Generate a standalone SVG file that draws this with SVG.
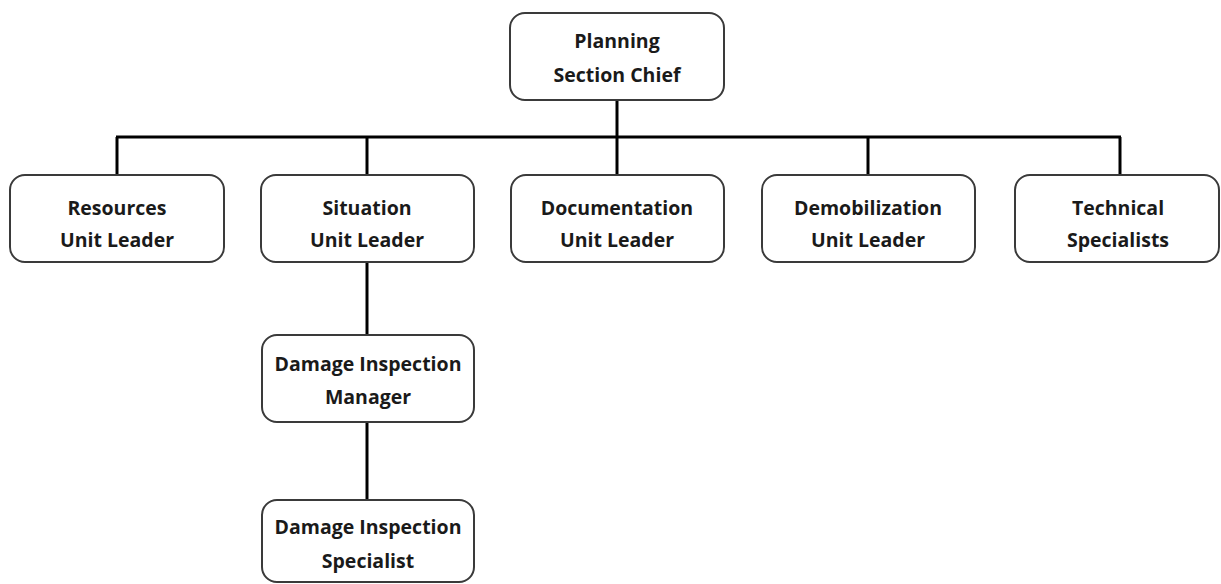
<svg xmlns="http://www.w3.org/2000/svg" width="1221" height="584" viewBox="0 0 1221 584">
<style>
.box{fill:#fff;stroke:#3a3a3a;stroke-width:2}
.t{font-family:"Open Sans","Liberation Sans",sans-serif;font-weight:700;font-size:19.5px;fill:#1a1a1a;text-anchor:middle}
.c{stroke:#000;stroke-width:3;fill:none}
</style>
<rect width="1221" height="584" fill="#fff"/>
<g id="connectors">
<line class="c" x1="617" y1="100" x2="617" y2="137"/>
<line class="c" x1="116" y1="137" x2="1121" y2="137"/>
<line class="c" x1="117" y1="137" x2="117" y2="175"/>
<line class="c" x1="367" y1="137" x2="367" y2="175"/>
<line class="c" x1="617" y1="137" x2="617" y2="175"/>
<line class="c" x1="868" y1="137" x2="868" y2="175"/>
<line class="c" x1="1120" y1="137" x2="1120" y2="175"/>
<line class="c" x1="367" y1="262" x2="367" y2="335"/>
<line class="c" x1="367" y1="422" x2="367" y2="500"/>
</g>
<g id="planning"><rect class="box" x="510" y="13" width="214" height="87" rx="15"/><text class="t" x="617" y="48">Planning</text><text class="t" x="617" y="82">Section Chief</text></g>
<g id="resources"><rect class="box" x="10" y="175" width="214" height="87" rx="15"/><text class="t" x="117" y="215">Resources</text><text class="t" x="117" y="247">Unit Leader</text></g>
<g id="situation"><rect class="box" x="261" y="175" width="213" height="87" rx="15"/><text class="t" x="367" y="215">Situation</text><text class="t" x="367" y="247">Unit Leader</text></g>
<g id="documentation"><rect class="box" x="511" y="175" width="213" height="87" rx="15"/><text class="t" x="617" y="215">Documentation</text><text class="t" x="617" y="247">Unit Leader</text></g>
<g id="demobilization"><rect class="box" x="762" y="175" width="213" height="87" rx="15"/><text class="t" x="868" y="215">Demobilization</text><text class="t" x="868" y="247">Unit Leader</text></g>
<g id="technical"><rect class="box" x="1015" y="175" width="204" height="87" rx="15"/><text class="t" x="1118" y="215">Technical</text><text class="t" x="1118" y="247">Specialists</text></g>
<g id="dim"><rect class="box" x="262" y="335" width="212" height="87" rx="15"/><text class="t" x="368" y="371">Damage Inspection</text><text class="t" x="368" y="404">Manager</text></g>
<g id="dis"><rect class="box" x="262" y="500" width="212" height="82" rx="15"/><text class="t" x="368" y="534">Damage Inspection</text><text class="t" x="368" y="568">Specialist</text></g>
</svg>
